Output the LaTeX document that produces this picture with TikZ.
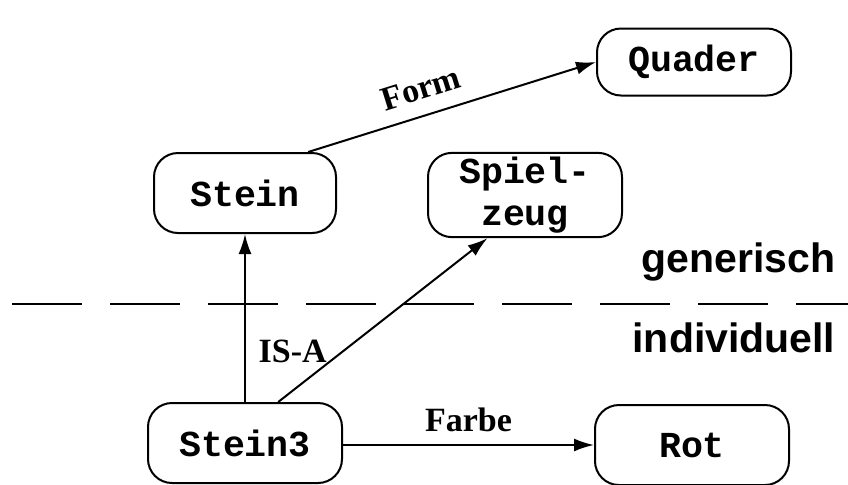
\documentclass[tikz,border=0pt]{standalone}
\usepackage{fontspec}
\setmainfont{Liberation Serif}
\setsansfont{Liberation Sans}
\setmonofont{Liberation Mono}
\usetikzlibrary{arrows.meta}
\begin{document}
\begin{tikzpicture}[x=0.5pt,y=-0.5pt,line width=1pt,
  concept/.style={draw,rounded corners=12pt,minimum width=97pt,minimum height=40pt,inner sep=2pt,align=center,font=\fontsize{18.3}{21}\selectfont\ttfamily\bfseries},
  rel/.style={font=\fontsize{17}{20}\selectfont\bfseries},
  level/.style={font=\fontsize{20.5}{24}\selectfont\sffamily\bfseries,anchor=base east},
  link/.style={-{Latex[length=10pt,width=6.5pt]}}]
\useasboundingbox (0,0) rectangle (848,484);
\node[concept,minimum width=91pt](stein) at (245,193){Stein};
\node[concept,minimum height=33.5pt](quader) at (694,62){Quader};
\node[concept,minimum height=42pt](spielzeug) at (525,195){Spiel-\\zeug};
\node[concept](stein3) at (245,443){Stein3};
\node[concept](rot) at (692,445){Rot};
\draw[dash pattern=on 35pt off 14pt](12,304)--(848,304);
\node[level](gen) at (843,272){generisch};
\node[level](ind) at (843,352){individuell};
\draw[link](stein.33)--(quader.west)node[pos=0.42,above=4pt,sloped,rel]{Form};
\draw[link](stein3)--(stein)node[pos=0.3,right=3pt,rel]{IS-A};
\draw[link](stein3.51)--(spielzeug.229);
\draw[link](stein3.east|-rot.west)--(rot.west)node[midway,above=3pt,rel]{Farbe};
\end{tikzpicture}
\end{document}
